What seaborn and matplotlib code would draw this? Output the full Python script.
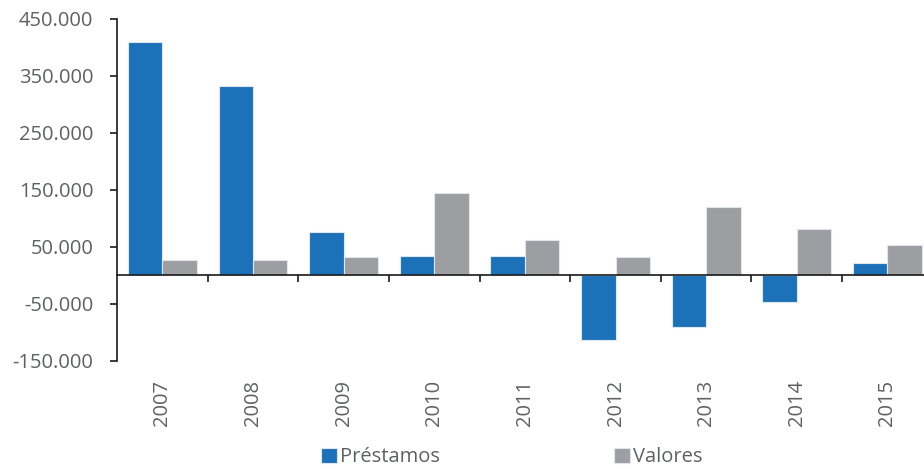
import numpy as np
import pandas as pd
import matplotlib
matplotlib.use('Agg')
import matplotlib.pyplot as plt
import seaborn as sns
from matplotlib.ticker import FuncFormatter

# Data
years = ['2007', '2008', '2009', '2010', '2011', '2012', '2013', '2014', '2015']
prestamos = [409000, 333000, 76000, 35000, 35000, -114000, -89500, -46000, 21500]
valores = [27500, 27500, 32000, 144000, 63000, 32000, 120000, 81000, 54000]
series = ['Préstamos', 'Valores']
colors = ['#1c71b9', '#9c9ea1']

df = pd.DataFrame({
    'year': years * 2,
    'serie': [series[0]] * len(years) + [series[1]] * len(years),
    'value': prestamos + valores,
})

sns.set_style('white')
plt.rcParams['font.family'] = ['Open Sans', 'DejaVu Sans']
text_gray = '#5f6062'

fig = plt.figure(figsize=(9.24, 4.69), dpi=100)
ax = fig.add_axes([0.1266, 0.2303, 0.8829, 0.7292])

sns.barplot(data=df, x='year', y='value', hue='serie', hue_order=series,
            palette=colors, width=0.76, edgecolor='#dfe6ee', linewidth=0.8,
            saturation=1, ax=ax, legend=True)

ax.set_xlim(-0.5, len(years) - 0.5)
ax.set_ylim(-150000, 450000)
ax.set_yticks(np.arange(-150000, 450001, 100000))
ax.yaxis.set_major_formatter(FuncFormatter(lambda v, p: f'{v:,.0f}'.replace(',', '.')))
ax.set_xlabel('')
ax.set_ylabel('')

# spines: left axis and zero line
for s in ['top', 'right']:
    ax.spines[s].set_visible(False)
ax.spines['left'].set_color('#1a1a1a')
ax.spines['left'].set_linewidth(1.2)
ax.spines['bottom'].set_position(('data', 0))
ax.spines['bottom'].set_color('#1a1a1a')
ax.spines['bottom'].set_linewidth(1.2)

ax.tick_params(axis='y', which='major', direction='out', length=5, width=1.2,
               color='#1a1a1a', labelsize=14.5, labelcolor=text_gray, pad=12, left=True)
ax.set_xticks(np.arange(len(years)))
ax.set_xticklabels(years, rotation=90)
ax.set_xticks(np.arange(0.5, len(years) - 0.5, 1), minor=True)
ax.tick_params(axis='x', which='major', length=0, labelsize=14.5,
               labelcolor=text_gray, pad=75)
ax.tick_params(axis='x', which='minor', direction='out', length=5, width=1.2,
               color='#1a1a1a', bottom=True)

handles, labels = ax.get_legend_handles_labels()
ax.legend(handles, labels, loc='center', bbox_to_anchor=(0.554, 0.025),
          bbox_transform=fig.transFigure, ncol=2, frameon=False,
          fontsize=14.5, labelcolor=text_gray, handlelength=0.8, handleheight=0.8,
          handletextpad=0.15, columnspacing=8.65)

fig.savefig('out.png', dpi=100)
